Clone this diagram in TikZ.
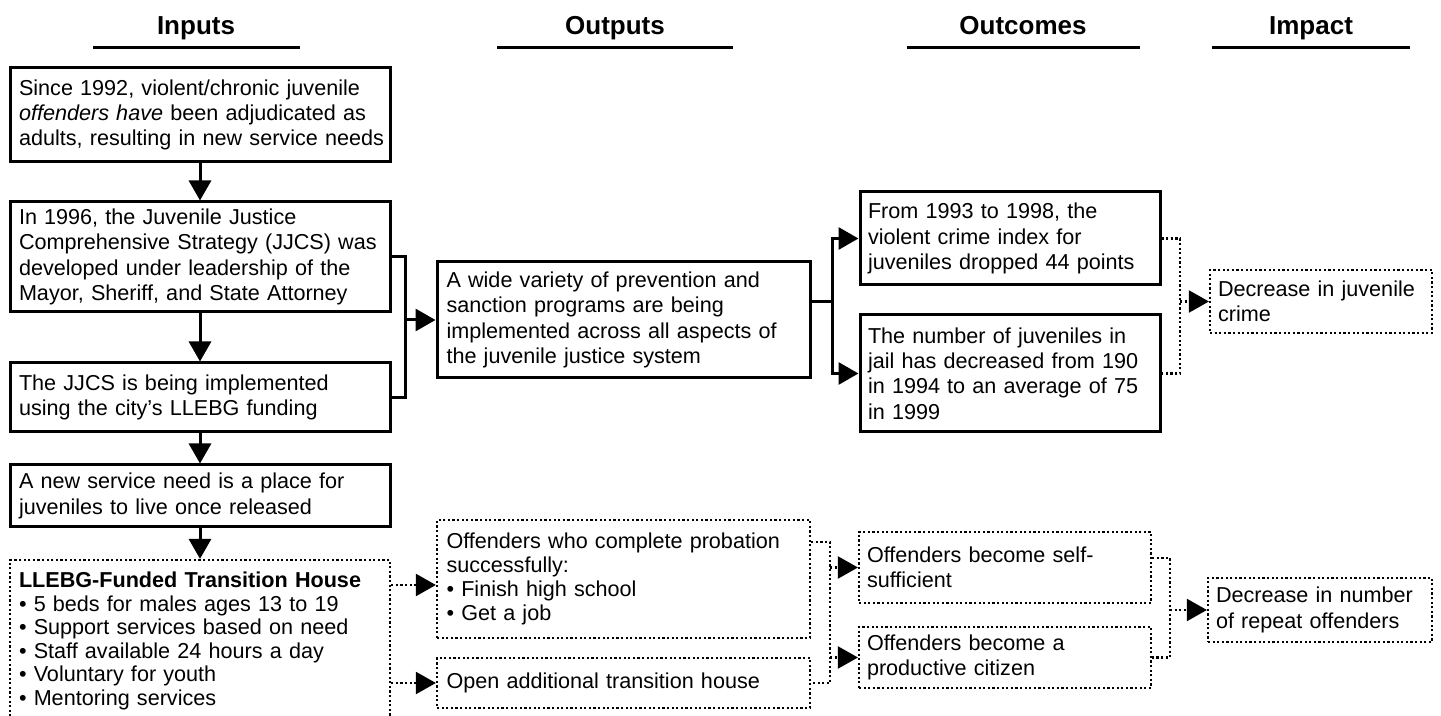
\documentclass[tikz,border=0pt]{standalone}
\usepackage{fontspec}
\setmainfont{Liberation Sans}
\usetikzlibrary{arrows.meta,calc}
\begin{document}
\begin{tikzpicture}[x=0.5pt,y=-0.5pt,
  body/.style={font=\fontsize{10.8}{12.6}\selectfont},
  sbox/.style={draw, line width=1.5pt, rectangle, inner sep=0pt, align=left, body},
  dbox/.style={draw, line width=1.1pt, dash pattern=on 1.1pt off 1.2pt, rectangle, inner sep=0pt, align=left, body},
  sline/.style={line width=1.5pt},
  dline/.style={line width=1.1pt, dash pattern=on 1.1pt off 1.2pt},
  tip/.style={-{Triangle[length=10pt,width=11pt]}},
  head/.style={font=\fontsize{13}{15}\selectfont\bfseries, anchor=base, inner sep=0pt},
  hrule/.style={line width=1.5pt}
]
\useasboundingbox (0,0) rectangle (1441,716);

% headers
\node[head] (hin) at (196,35) {Inputs};
\coordinate (hinL) at (93,48); \coordinate (hinR) at (300,48);
\draw[hrule] (hinL) -- (hinR);
\node[head] (hout) at (615,35) {Outputs};
\coordinate (houtL) at (497,48); \coordinate (houtR) at (733,48);
\draw[hrule] (houtL) -- (houtR);
\node[head] (hoc) at (1023,35) {Outcomes};
\coordinate (hocL) at (907,48); \coordinate (hocR) at (1140,48);
\draw[hrule] (hocL) -- (hocR);
\node[head] (him) at (1311,35) {Impact};
\coordinate (himL) at (1212,48); \coordinate (himR) at (1410,48);
\draw[hrule] (himL) -- (himR);

% inputs
\node[sbox, minimum width=190pt, minimum height=47pt, text width=181pt] (i1) at (200,115)
 {Since 1992, violent/chronic juvenile\\ \textit{offenders have} been adjudicated as\\ \mbox{adults, resulting in new service needs}};
\node[sbox, minimum width=190pt, minimum height=55pt, text width=181pt] (i2) at (200,257)
 {In 1996, the Juvenile Justice\\ Comprehensive Strategy (JJCS) was\\ developed under leadership of the\\ Mayor, Sheriff, and State Attorney};
\node[sbox, minimum width=190pt, minimum height=34.5pt, text width=181pt] (i3) at (200,397.5)
 {The JJCS is being implemented\\ using the city's LLEBG funding};
\node[sbox, minimum width=190pt, minimum height=31pt, text width=181pt] (i4) at (200,496)
 {A new service need is a place for\\ juveniles to live once released};
\node[dbox, minimum width=190pt, minimum height=81pt, text width=181pt, font=\fontsize{10.8}{11.8}\selectfont] (i5) at (200,641)
 {\textbf{LLEBG-Funded Transition House}\\ \textbullet\ 5 beds for males ages 13 to 19\\ \textbullet\ Support services based on need\\ \textbullet\ Staff available 24 hours a day\\ \textbullet\ Voluntary for youth\\ \textbullet\ Mentoring services};

% outputs
\node[sbox, minimum width=186.5pt, minimum height=58pt, text width=177pt] (o1) at (623.5,320)
 {A wide variety of prevention and\\ sanction programs are being\\ implemented across all aspects of\\ the juvenile justice system};
\node[dbox, minimum width=186.5pt, minimum height=59pt, text width=177pt, font=\fontsize{10.8}{12}\selectfont] (o2) at (623.5,579)
 {Offenders who complete probation\\ successfully:\\ \textbullet\ Finish high school\\ \textbullet\ Get a job};
\node[dbox, minimum width=186.5pt, minimum height=25pt, text width=177pt] (o3) at (623.5,683)
 {Open additional transition house};

% outcomes
\node[sbox, minimum width=150pt, minimum height=46.5pt, text width=142pt] (oc1) at (1010,238.5)
 {From 1993 to 1998, the\\ violent crime index for\\ juveniles dropped 44 points};
\node[sbox, minimum width=150pt, minimum height=58.5pt, text width=142pt] (oc2) at (1010,373.5)
 {The number of juveniles in\\ jail has decreased from 190\\ in 1994 to an average of 75\\ in 1999};
\node[dbox, minimum width=146pt, minimum height=35.5pt, text width=138pt] (oc3) at (1005,567.5)
 {Offenders become self-\\ sufficient};
\node[dbox, minimum width=146pt, minimum height=30.5pt, text width=138pt] (oc4) at (1005,657.5)
 {Offenders become a\\ productive citizen};

% impact
\node[dbox, minimum width=111pt, minimum height=31.5pt, text width=103pt] (im1) at (1321,301.5)
 {Decrease in juvenile\\ crime};
\node[dbox, minimum width=112pt, minimum height=32pt, text width=104pt] (im2) at (1320,610)
 {Decrease in number\\ of repeat offenders};

% input chain
\draw[sline,tip] (i1) -- (i2);
\draw[sline,tip] (i2) -- (i3);
\draw[sline,tip] (i3) -- (i4);
\draw[sline,tip] (i4) -- (i5);

% inputs -> output 1
\coordinate (j1) at (405,320);
\draw[sline] (i2.east) -| (j1) |- (i3.east);
\draw[sline,tip] (j1) -- (o1.west);

% output 1 -> outcomes
\coordinate (o1out) at ($(o1.east)+(0,-18)$);
\coordinate (j2) at (832,302);
\draw[sline] (o1out) -- (j2);
\draw[sline,tip] (j2) |- (oc1.west);
\draw[sline,tip] (j2) |- (oc2.west);

% outcomes -> impact 1
\coordinate (j3) at (1180,301.5);
\draw[dline] (oc1.east) -| (j3) |- (oc2.east);
\draw[dline,tip] (j3) -- (im1.west);

% transition house -> outputs
\coordinate (o2in) at ($(o2.west)+(0,6)$);
\draw[dline,tip] (i5.east |- o2in) -- (o2in);
\draw[dline,tip] (i5.east |- o3.west) -- (o3.west);

% outputs -> outcomes 3,4
\coordinate (o2out) at ($(o2.east)+(0,-37)$);
\coordinate (j4) at (830,600);
\draw[dline] (o2out) -| (j4) |- (o3.east);
\draw[dline,tip] (j4 |- oc3.west) -- (oc3.west);
\draw[dline,tip] (j4 |- oc4.west) -- (oc4.west);

% outcomes 3,4 -> impact 2
\coordinate (oc3out) at ($(oc3.east)+(0,-9.5)$);
\coordinate (j5) at (1170,610);
\draw[dline] (oc3out) -| (j5) |- (oc4.east);
\draw[dline,tip] (j5) -- (im2.west);
\end{tikzpicture}
\end{document}
